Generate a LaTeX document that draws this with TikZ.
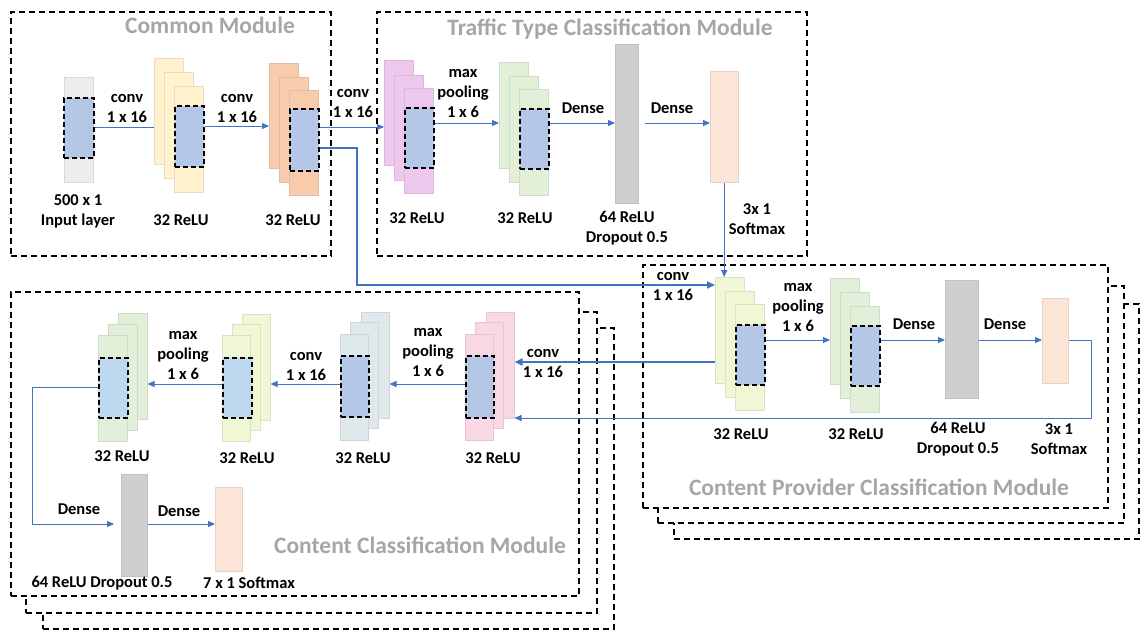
\documentclass[tikz,border=0pt]{standalone}
\usepackage{fontspec}
\setmainfont{Carlito}
\usetikzlibrary{arrows.meta}

\definecolor{linkblue}{HTML}{4472C4}
\definecolor{titlegray}{HTML}{A6A6A6}
\definecolor{coreblue}{HTML}{B4C7E7}
\definecolor{corelight}{HTML}{BDD7EE}
\definecolor{inputgray}{HTML}{EDEDED}
\definecolor{cyellow}{HTML}{FFF2CC}
\definecolor{corange}{HTML}{F8CBAD}
\definecolor{cviolet}{HTML}{EDC8EC}
\definecolor{cgreen}{HTML}{E2F0D9}
\definecolor{clime}{HTML}{F0F7D4}
\definecolor{cslate}{HTML}{DFE9EC}
\definecolor{cpink}{HTML}{F9D8E4}
\definecolor{densegray}{HTML}{D0CECE}
\definecolor{softpeach}{HTML}{FBE5D6}

\newcommand\lblfont{\fontsize{16.5}{20}\selectfont\bfseries}
\newcommand\ttlfont{\fontsize{23.5}{28}\selectfont\bfseries}

\tikzset{
  modbox/.style={rectangle, anchor=north west, inner sep=0pt, draw=black,
    line width=1.7pt, dash pattern=on 6pt off 4pt, fill=white},
  layer/.style={rectangle, anchor=north west, inner sep=0pt, line width=0.5pt},
  corebox/.style={rectangle, anchor=north west, inner sep=0pt, draw=black,
    line width=1.9pt, dash pattern=on 5pt off 3pt},
  lbl/.style={font=\lblfont, align=center, inner sep=0pt},
  ttl/.style={font=\ttlfont, text=titlegray, inner sep=0pt, anchor=base},
  link/.style={draw=linkblue, line width=0.9pt},
  flow/.style={link, -{Triangle[length=7pt,width=6pt]}},
  trunk/.style={draw=linkblue, line width=1.8pt, -{Triangle[length=8pt,width=7pt]}},
}

% one feature-map layer: name, x, y (top-left), width, height, colour
\newcommand\lyr[6]{\node[layer, minimum width=#4pt, minimum height=#5pt,
  fill=#6, draw=#6!82!gray] (#1) at (#2,#3) {};}
% dashed receptive-field window: name, x, y, width, height, colour
\newcommand\win[6]{\node[corebox, minimum width=#4pt, minimum height=#5pt,
  fill=#6] (#1) at (#2,#3) {};}

\begin{document}
\begin{tikzpicture}[x=1pt, y=-1pt]
\useasboundingbox (0,0) rectangle (1140,630);

% ---------- module frames ----------
\node[modbox, minimum width=571pt, minimum height=301pt] (cc3) at (42,327) {};
\node[modbox, minimum width=571pt, minimum height=301pt] (cc2) at (25,311) {};
\node[modbox, minimum width=568pt, minimum height=304pt] (cc1) at (10,291) {};

\node[modbox, minimum width=465pt, minimum height=235pt] (cp3) at (673,303) {};
\node[modbox, minimum width=466pt, minimum height=237pt] (cp2) at (657,285) {};
\node[modbox, minimum width=465pt, minimum height=243pt] (cp1) at (642,264) {};

\node[modbox, minimum width=320pt, minimum height=244pt] (common) at (10,11) {};
\node[modbox, minimum width=430pt, minimum height=244pt] (traffic) at (376,11) {};

% ---------- bend points and row levels ----------
\coordinate (rowA) at (0,127);
\coordinate (rowAB) at (0,126);
\coordinate (rowT) at (0,123);
\coordinate (kneeA) at (357,148);
\coordinate (kneeB) at (357,285);
\coordinate (rowP) at (0,340);
\coordinate (retA) at (1091,340);
\coordinate (retB) at (1091,418);
\coordinate (rowQ) at (0,362);
\coordinate (rowC) at (0,384);
\coordinate (rowJ) at (0,387);
\coordinate (turnA) at (32,387);
\coordinate (turnB) at (32,524);

% ---------- layers: common module ----------
\lyr{inp}{64}{77}{29}{105}{inputgray}
\lyr{a1}{154}{58}{29}{106}{cyellow}
\lyr{a2}{164}{72}{29}{106}{cyellow}
\lyr{a3}{174}{86}{29}{106}{cyellow}
\lyr{b1}{269}{63}{29}{105}{corange}
\lyr{b2}{279}{77}{29}{105}{corange}
\lyr{b3}{289}{90}{29}{105}{corange}

% ---------- layers: traffic type module ----------
\lyr{c1}{384}{60}{29}{105}{cviolet}
\lyr{c2}{394}{75}{29}{105}{cviolet}
\lyr{c3}{404}{88}{29}{105}{cviolet}
\lyr{d1}{499}{62}{29}{106}{cgreen}
\lyr{d2}{509}{76}{29}{106}{cgreen}
\lyr{d3}{519}{89}{29}{106}{cgreen}
\lyr{tden}{615}{44}{23}{159}{densegray}
\lyr{tsm}{710}{71}{28}{111}{softpeach}

% ---------- layers: content provider module ----------
\lyr{e1}{715}{277}{29}{106}{clime}
\lyr{e2}{725}{291}{29}{106}{clime}
\lyr{e3}{735}{304}{29}{106}{clime}
\lyr{f1}{830}{278}{29}{106}{cgreen}
\lyr{f2}{840}{292}{29}{106}{cgreen}
\lyr{f3}{850}{306}{29}{106}{cgreen}
\lyr{pden}{945}{280}{33}{118}{densegray}
\lyr{psm}{1042}{298}{26}{85}{softpeach}

% ---------- layers: content module ----------
\lyr{g1}{486}{312}{28}{106}{cpink}
\lyr{g2}{475}{322}{28}{106}{cpink}
\lyr{g3}{465}{334}{28}{106}{cpink}
\lyr{h1}{361}{312}{28}{106}{cslate}
\lyr{h2}{350}{322}{28}{106}{cslate}
\lyr{h3}{340}{334}{28}{106}{cslate}
\lyr{i1}{242}{314}{28}{106}{clime}
\lyr{i2}{232}{324}{28}{106}{clime}
\lyr{i3}{222}{335}{28}{106}{clime}
\lyr{j1}{118}{313}{29}{106}{cgreen}
\lyr{j2}{108}{324}{29}{106}{cgreen}
\lyr{j3}{98}{335}{29}{106}{cgreen}
\lyr{cden}{121}{474}{26}{102}{densegray}
\lyr{csm}{215}{487}{27}{84}{softpeach}

% ---------- windows ----------
\win{inpc}{63}{97}{30}{60}{coreblue}
\win{ac}{174}{105}{29}{61}{coreblue}
\win{bc}{289}{108}{29}{62}{coreblue}
\win{cc}{404}{107}{29}{60}{coreblue}
\win{dc}{519}{108}{29}{60}{coreblue}
\win{ec}{735}{324}{29}{60}{coreblue}
\win{fc}{850}{325}{29}{60}{coreblue}
\win{gc}{465}{355}{28}{62}{coreblue}
\win{hc}{340}{355}{28}{61}{coreblue}
\win{ic}{222}{357}{29}{60}{corelight}
\win{jc}{98}{357}{29}{60}{corelight}

% ---------- connectors ----------
\draw[link] (inpc.east |- rowA) -- (a1.west |- rowA);
\draw[flow] (ac.east |- rowAB) -- (b1.west |- rowAB);
\draw[flow] (bc.east |- rowA) -- (c1.west |- rowA);
\draw[trunk] (bc.east |- kneeA) -- (kneeA) -- (kneeB) -- (e1.west |- kneeB);

\draw[flow] (cc.east |- rowT) -- (d1.west |- rowT);
\draw[flow] (dc.east |- rowT) -- (tden.west |- rowT);
\draw[flow, shorten <=6pt] (tden.east |- rowT) -- (tsm.west |- rowT);
\draw[flow] (tsm.south) -- (tsm.south |- e1.north);

\draw[flow] (ec.east |- rowP) -- (f1.west |- rowP);
\draw[flow] (fc.east |- rowP) -- (pden.west |- rowP);
\draw[flow] (pden.east |- rowP) -- (psm.west |- rowP);
\draw[flow] (psm.east |- rowP) -- (retA) -- (retB) -- (g1.east |- retB);
\draw[trunk] (e1.west |- rowQ) -- (g1.east |- rowQ);

\draw[flow] (gc.west |- rowC) -- (h1.east |- rowC);
\draw[flow] (hc.west |- rowC) -- (i1.east |- rowC);
\draw[flow] (ic.west |- rowC) -- (j1.east |- rowC);
\draw[flow, shorten >=7pt] (jc.west |- rowJ) -- (turnA) -- (turnB) -- (cden.west |- turnB);
\draw[flow] (cden.east |- turnB) -- (csm.west |- turnB);

% ---------- labels: common module ----------
\node[lbl] (l1) at (127,108) {conv\\1 x 16};
\node[lbl] (l2) at (237,108) {conv\\1 x 16};
\node[lbl] (l3) at (353,103) {conv\\1 x 16};
\node[lbl] (l4) at (78,211) {500 x 1\\Input layer};
\node[lbl] (l5) at (181,220) {32 ReLU};
\node[lbl] (l6) at (293,220) {32 ReLU};

% ---------- labels: traffic type module ----------
\node[lbl] (l7) at (417,218) {32 ReLU};
\node[lbl] (l8) at (463,93) {max\\pooling\\1 x 6};
\node[lbl] (l9) at (525,218) {32 ReLU};
\node[lbl] (l10) at (583,108) {Dense};
\node[lbl] (l11) at (672,108) {Dense};
\node[lbl] (l12) at (627,228) {64 ReLU\\Dropout 0.5};
\node[lbl] (l13) at (757,219) {3x 1\\Softmax};

% ---------- labels: content provider module ----------
\node[lbl] (l14) at (673,286) {conv\\1 x 16};
\node[lbl] (l15) at (741,434) {32 ReLU};
\node[lbl] (l16) at (798,307) {max\\pooling\\1 x 6};
\node[lbl] (l17) at (856,434) {32 ReLU};
\node[lbl] (l18) at (914,324) {Dense};
\node[lbl] (l19) at (1005,324) {Dense};
\node[lbl] (l20) at (958,439) {64 ReLU\\Dropout 0.5};
\node[lbl] (l21) at (1059,439) {3x 1\\Softmax};

% ---------- labels: content module ----------
\node[lbl] (l22) at (543,363) {conv\\1 x 16};
\node[lbl] (l23) at (493,458) {32 ReLU};
\node[lbl] (l24) at (428,352) {max\\pooling\\1 x 6};
\node[lbl] (l25) at (363,458) {32 ReLU};
\node[lbl] (l26) at (306,366) {conv\\1 x 16};
\node[lbl] (l27) at (247,458) {32 ReLU};
\node[lbl] (l28) at (183,355) {max\\pooling\\1 x 6};
\node[lbl] (l29) at (122,456) {32 ReLU};
\node[lbl] (l30) at (79,509) {Dense};
\node[lbl] (l31) at (179,511) {Dense};
\node[lbl] (l32) at (102,583) {64 ReLU Dropout 0.5};
\node[lbl] (l33) at (249,583) {7 x 1 Softmax};

% ---------- module titles ----------
\node[ttl] (tcommon) at (210,33) {Common Module};
\node[ttl] (ttraffic) at (610,35) {Traffic Type Classification Module};
\node[ttl] (tprov) at (879,495) {Content Provider Classification Module};
\node[ttl] (tcont) at (420,553) {Content Classification Module};
\end{tikzpicture}
\end{document}
